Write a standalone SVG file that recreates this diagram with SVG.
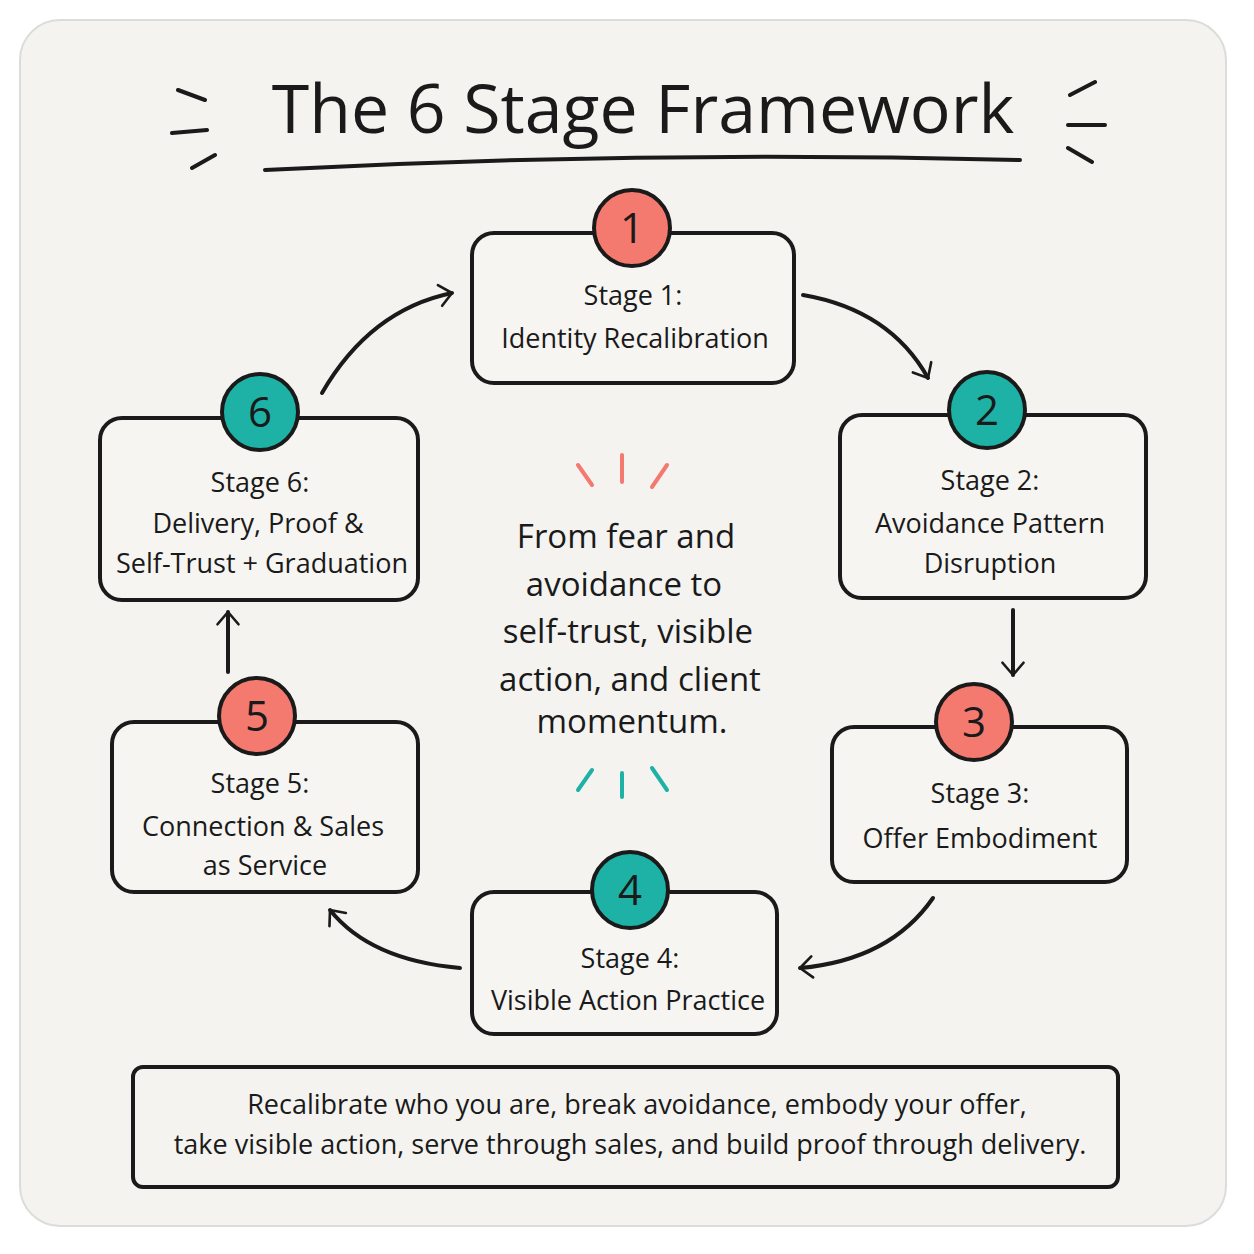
<svg xmlns="http://www.w3.org/2000/svg" width="1254" height="1254" viewBox="0 0 1254 1254">
<style>
.box{fill:#f6f5f2;stroke:#1a1a1a;stroke-width:4}
.t{font-family:"Open Sans","Liberation Sans",sans-serif;fill:#1a1a1a;text-anchor:middle}
.st{font-size:27px}
.num{font-size:42px;font-family:"Open Sans","Liberation Sans",sans-serif;fill:#1a1a1a;text-anchor:middle}
.cor{fill:#f47a70;stroke:#1a1a1a;stroke-width:4}
.tea{fill:#1eb2a6;stroke:#1a1a1a;stroke-width:4}
.ln{stroke:#1a1a1a;stroke-width:4;stroke-linecap:round;fill:none}
.c{fill:none;stroke:#1a1a1a;stroke-width:4;stroke-linecap:round;marker-end:url(#ah)}
</style>
<defs>
<marker id="ah" viewBox="0 0 12 12" refX="9" refY="6" markerWidth="7" markerHeight="7" orient="auto" markerUnits="userSpaceOnUse" style="overflow:visible">
<path d="M-12,-12 L9,6 L-12,24" fill="none" stroke="#1a1a1a" stroke-width="4.5" stroke-linecap="round" stroke-linejoin="round"/>
</marker>
</defs>
<rect x="0" y="0" width="1254" height="1254" fill="#ffffff"/>
<rect x="20" y="20" width="1206" height="1206" rx="40" fill="#f4f3f0" stroke="#dcdcdc" stroke-width="2"/>
<g id="title">
<text class="t" x="643" y="133" font-size="68">The 6 Stage Framework</text>
<path class="ln" d="M265,170 Q640,150 1020,160"/>
<path class="ln" d="M178,90 L205,100 M172,133 L207,130 M192,168 L215,155 M1070,95 L1095,82 M1068,125 L1105,125 M1068,148 L1092,162"/>
</g>
<g id="connectors">
<path class="c" d="M803,295 Q890,310 928,378"/>
<path class="c" d="M1013,610 L1013,675"/>
<path class="c" d="M933,898 Q890,960 800,968"/>
<path class="c" d="M460,968 Q370,960 330,910"/>
<path class="c" d="M228,672 L228,612"/>
<path class="c" d="M322,393 Q370,310 452,293"/>
</g>
<g id="n1">
<rect class="box" x="472" y="233" width="322" height="150" rx="22"/>
<circle class="cor" cx="632" cy="228" r="38"/><text class="num" x="632" y="243">1</text>
<text class="t st" x="633" y="305">Stage 1:</text>
<text class="t st" x="635" y="348">Identity Recalibration</text>
</g>
<g id="n2">
<rect class="box" x="840" y="415" width="306" height="183" rx="22"/>
<circle class="tea" cx="987" cy="410" r="38"/><text class="num" x="987" y="425">2</text>
<text class="t st" x="990" y="490">Stage 2:</text>
<text class="t st" x="990" y="533">Avoidance Pattern</text>
<text class="t st" x="990" y="573">Disruption</text>
</g>
<g id="n3">
<rect class="box" x="832" y="727" width="295" height="155" rx="22"/>
<circle class="cor" cx="974" cy="722" r="38"/><text class="num" x="974" y="737">3</text>
<text class="t st" x="980" y="803">Stage 3:</text>
<text class="t st" x="980" y="848">Offer Embodiment</text>
</g>
<g id="n4">
<rect class="box" x="472" y="892" width="305" height="142" rx="22"/>
<circle class="tea" cx="630" cy="890" r="38"/><text class="num" x="630" y="905">4</text>
<text class="t st" x="630" y="968">Stage 4:</text>
<text class="t st" x="628" y="1010">Visible Action Practice</text>
</g>
<g id="n5">
<rect class="box" x="112" y="722" width="306" height="170" rx="22"/>
<circle class="cor" cx="257" cy="716" r="38"/><text class="num" x="257" y="731">5</text>
<text class="t st" x="260" y="793">Stage 5:</text>
<text class="t st" x="263" y="836">Connection &amp; Sales</text>
<text class="t st" x="265" y="875">as Service</text>
</g>
<g id="n6">
<rect class="box" x="100" y="418" width="318" height="182" rx="22"/>
<circle class="tea" cx="260" cy="412" r="38"/><text class="num" x="260" y="427">6</text>
<text class="t st" x="260" y="492">Stage 6:</text>
<text class="t st" x="258" y="533">Delivery, Proof &amp;</text>
<text class="t st" x="262" y="573">Self-Trust + Graduation</text>
</g>
<g id="center">
<path d="M578,465 L592,485 M622,455 L622,482 M667,465 L652,487" stroke="#f47a70" stroke-width="4" stroke-linecap="round"/>
<path d="M592,770 L578,790 M622,773 L622,797 M652,768 L667,790" stroke="#1eb2a6" stroke-width="4" stroke-linecap="round"/>
<g class="t" font-size="33">
<text x="626" y="548">From fear and</text>
<text x="624" y="596">avoidance to</text>
<text x="628" y="643">self-trust, visible</text>
<text x="630" y="691">action, and client</text>
<text x="632" y="733">momentum.</text>
</g>
</g>
<g id="summary">
<rect x="133" y="1067" width="985" height="120" rx="10" fill="none" stroke="#1a1a1a" stroke-width="4"/>
<text class="t" x="637" y="1114" font-size="27">Recalibrate who you are, break avoidance, embody your offer,</text>
<text class="t" x="630" y="1154" font-size="27">take visible action, serve through sales, and build proof through delivery.</text>
</g>
</svg>
